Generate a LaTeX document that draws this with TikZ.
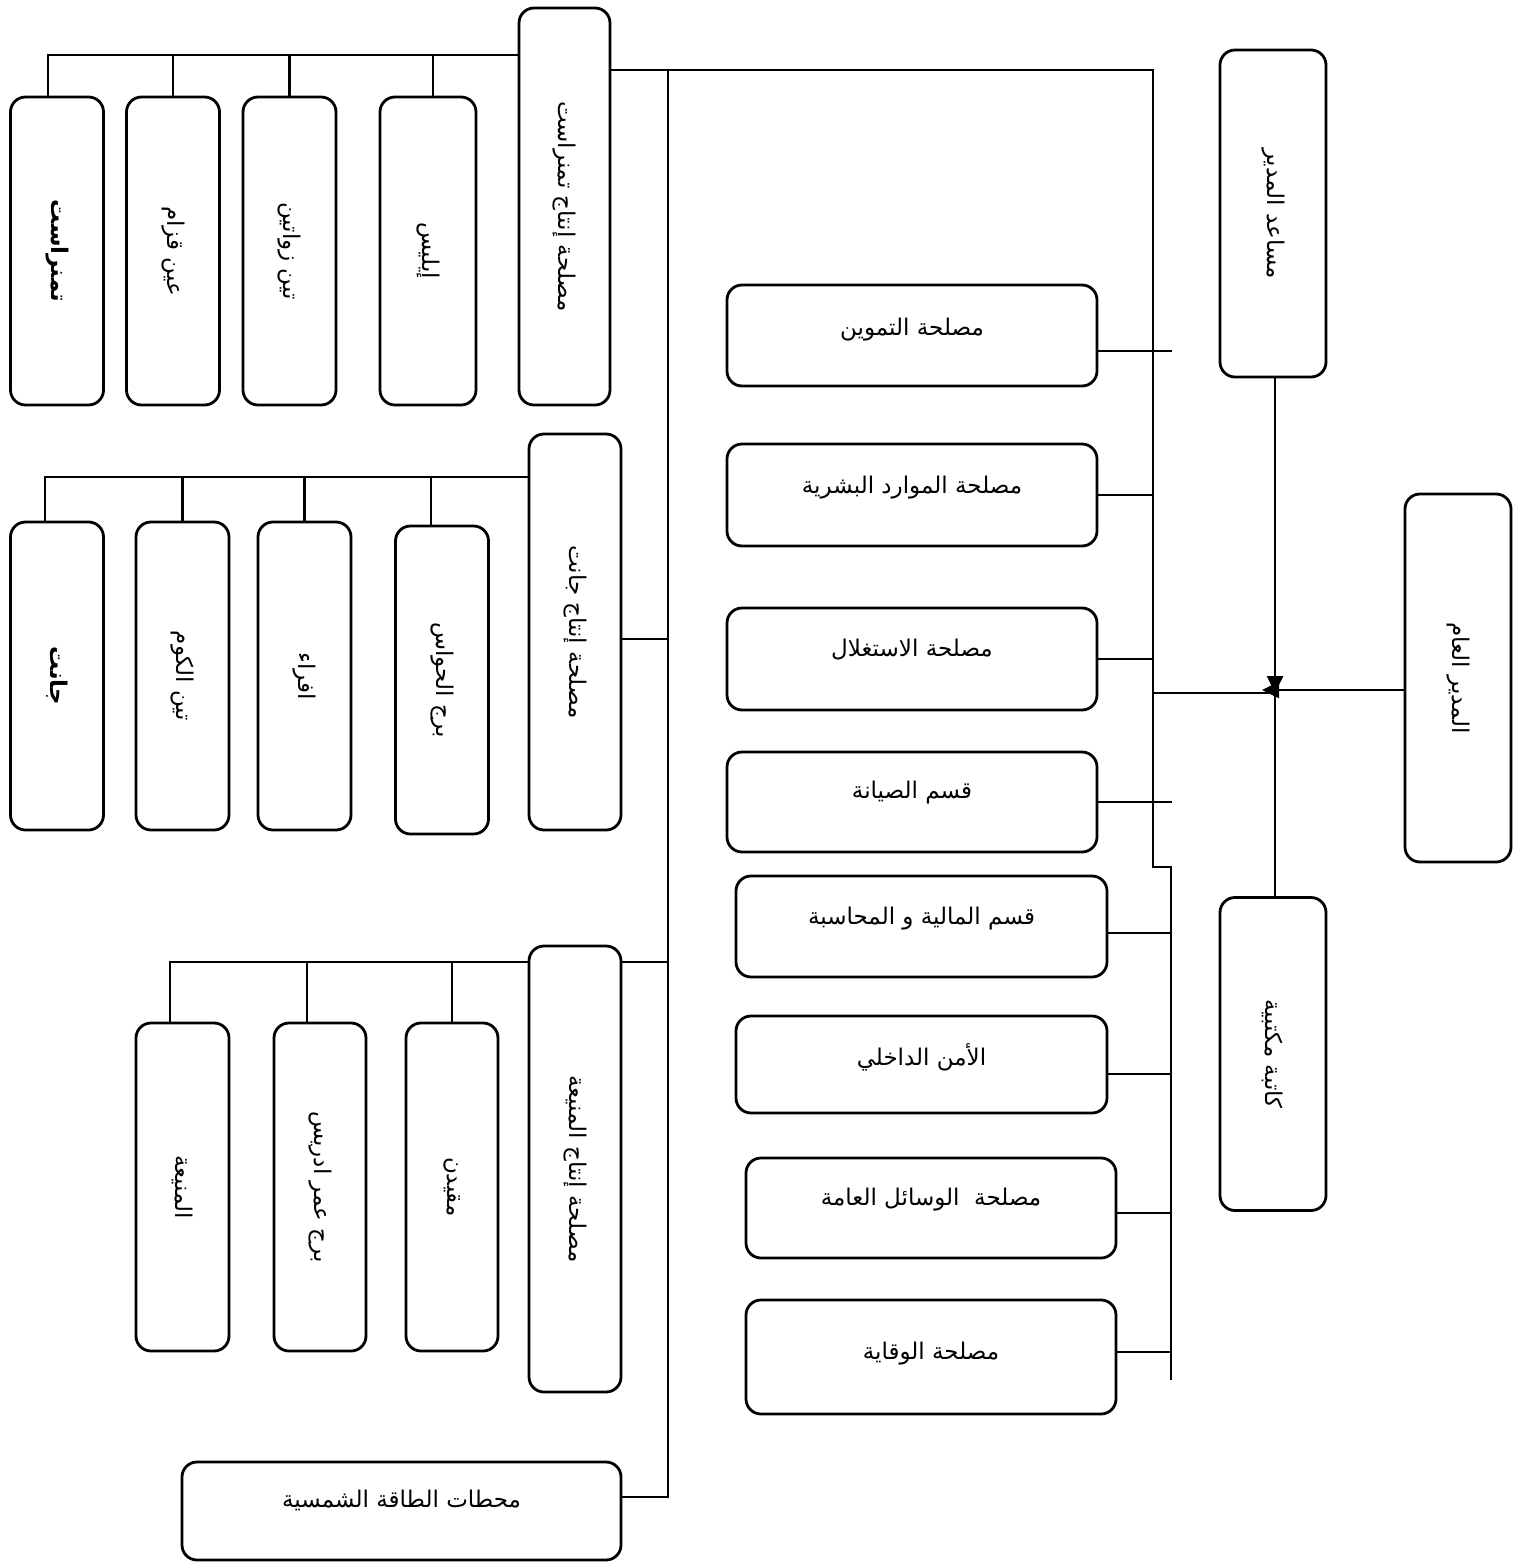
\documentclass[tikz,border=0pt]{standalone}
\usepackage{fontspec}
\usepackage{graphicx}
\usetikzlibrary{arrows.meta}
\TeXXeTstate=1
\newfontfamily\arfont[Script=Arabic]{DejaVu Sans}
\newcommand{\artxt}[1]{{\arfont\beginR #1\endR}}
\newcommand{\vartxt}[1]{\rotatebox{-90}{\arfont\beginR #1\endR}}
\tikzset{
  box/.style={draw, line width=2.8pt, rounded corners=15pt, inner sep=0pt, align=center,
    font=\fontsize{23}{27}\selectfont},
  lbl/.style={inner sep=0pt, font=\fontsize{23}{27}\selectfont},
  ln/.style={line width=2.5pt},
  arr/.style={ln, -{Triangle[width=16pt,length=17pt]}}
}
\begin{document}
\begin{tikzpicture}[x=1pt,y=-1pt]
\useasboundingbox (0,0) rectangle (1521,1562);

% ---------- group Tamanrasset ----------
\node[box, minimum width=91pt, minimum height=397pt] (hA) at (564.5,206.5) {\vartxt{مصلحة إنتاج تمنراست}};
\node[box, minimum width=96pt, minimum height=308pt] (ilz) at (428,251) {\vartxt{إيليس}};
\node[box, minimum width=93pt, minimum height=308pt] (tinz) at (289.5,251) {\vartxt{تين زواتين}};
\node[box, minimum width=93pt, minimum height=308pt] (ayn) at (173,251) {\vartxt{عين قزام}};
\node[box, minimum width=93pt, minimum height=308pt] (tam) at (57,251) {\vartxt{\bfseries تمنراست}};

% ---------- group Djanet ----------
\node[box, minimum width=92pt, minimum height=396pt] (hB) at (575,632) {\vartxt{مصلحة إنتاج جانت}};
\node[box, minimum width=93pt, minimum height=308pt] (bordjH) at (442,680) {\vartxt{برج الحواس}};
\node[box, minimum width=93pt, minimum height=308pt] (ifri) at (304.5,676) {\vartxt{افراء}};
\node[box, minimum width=93pt, minimum height=308pt] (tinK) at (182.5,676) {\vartxt{تين الكوم}};
\node[box, minimum width=93pt, minimum height=308pt] (jan) at (57,676) {\vartxt{\bfseries جانت}};

% ---------- group El Menia ----------
\node[box, minimum width=92pt, minimum height=446pt] (hC) at (575,1169) {\vartxt{مصلحة إنتاج المنيعة}};
\node[box, minimum width=92pt, minimum height=328pt] (meq) at (452,1187) {\vartxt{مقيدن}};
\node[box, minimum width=92pt, minimum height=328pt] (bordjO) at (320,1187) {\vartxt{برج عمر ادريس}};
\node[box, minimum width=93pt, minimum height=328pt] (men) at (182.5,1187) {\vartxt{المنيعة}};

% ---------- solar ----------
\node[box, minimum width=439pt, minimum height=98pt] (sol) at (401.5,1511) {};
\node[lbl] (solT) at ([yshift=11pt]sol.center) {\artxt{محطات الطاقة الشمسية}};

% ---------- services ----------
\node[box, minimum width=370pt, minimum height=101pt] (tamwin) at (912,335.5) {};
\node[lbl] (tamwinT) at ([yshift=6pt]tamwin.center) {\artxt{مصلحة التموين}};
\node[box, minimum width=370pt, minimum height=102pt] (hr) at (912,495) {};
\node[lbl] (hrT) at ([yshift=7pt]hr.center) {\artxt{مصلحة الموارد البشرية}};
\node[box, minimum width=370pt, minimum height=102pt] (expl) at (912,659) {};
\node[lbl] (explT) at ([yshift=9pt]expl.center) {\artxt{مصلحة الاستغلال}};
\node[box, minimum width=370pt, minimum height=100pt] (maint) at (912,802) {};
\node[lbl] (maintT) at ([yshift=9pt]maint.center) {\artxt{قسم الصيانة}};
\node[box, minimum width=371pt, minimum height=101pt] (fin) at (921.5,926.5) {};
\node[lbl] (finT) at ([yshift=8pt]fin.center) {\artxt{قسم المالية و المحاسبة}};
\node[box, minimum width=371pt, minimum height=97pt] (secu) at (921.5,1064.5) {};
\node[lbl] (secuT) at ([yshift=7pt]secu.center) {\artxt{الأمن الداخلي}};
\node[box, minimum width=370pt, minimum height=100pt] (gen) at (931,1208) {};
\node[lbl] (genT) at ([yshift=8pt]gen.center) {\artxt{مصلحة\ \ الوسائل العامة}};
\node[box, minimum width=370pt, minimum height=114pt] (prev) at (931,1357) {};
\node[lbl] (prevT) at ([yshift=3pt]prev.center) {\artxt{مصلحة الوقاية}};

% ---------- direction ----------
\node[box, minimum width=106pt, minimum height=327pt] (asst) at (1273,213.5) {\vartxt{مساعد المدير}};
\node[box, minimum width=106pt, minimum height=368pt] (gm) at (1458,678) {\vartxt{المدير العام}};
\node[box, minimum width=106pt, minimum height=313pt] (secr) at (1273,1054) {\vartxt{كاتبة مكتبية}};

% ---------- connectors: Tamanrasset bus ----------
\coordinate (aL) at (48,55);
\coordinate (aR) at (519,55);
\draw[ln] (hA.west |- aR) -- (aL) -- (aL |- tam.north);
\draw[ln] (ayn.north) -- (ayn.north |- aR);
\draw[ln] (tinz.north) -- (tinz.north |- aR);
\coordinate (aI) at (433,55);
\draw[ln] (aI |- ilz.north) -- (aI);

% ---------- trunks ----------
\coordinate (t1) at (1153,70);
\coordinate (t2) at (1153,867);
\coordinate (t3) at (1171,867);
\coordinate (t4) at (1171,1380);
\draw[ln] (hA.east |- t1) -- (t1) -- (t2) -- (t3) -- (t4);
\coordinate (m1) at (668,70);
\coordinate (m2) at (668,1497);
\draw[ln] (m1) -- (m2) -- (sol.east |- m2);
\coordinate (bJ) at (668,639);
\draw[ln] (hB.east |- bJ) -- (bJ);

% ---------- Djanet bus ----------
\coordinate (bL) at (45,477);
\draw[ln] (hB.west |- bL) -- (bL) -- (bL |- jan.north);
\draw[ln] (tinK.north) -- (tinK.north |- bL);
\draw[ln] (ifri.north) -- (ifri.north |- bL);
\coordinate (bH) at (431,477);
\draw[ln] (bH |- bordjH.north) -- (bH);

% ---------- El Menia bus ----------
\coordinate (cL) at (170,962);
\coordinate (cR) at (668,962);
\draw[ln] (hC.west |- cL) -- (cL) -- (cL |- men.north);
\draw[ln] (hC.east |- cR) -- (cR);
\coordinate (cO) at (307,962);
\draw[ln] (cO |- bordjO.north) -- (cO);
\draw[ln] (meq.north) -- (meq.north |- cL);

% ---------- services connectors ----------
\coordinate (r1) at (1172,351);
\draw[ln] (tamwin.east |- r1) -- (r1);
\draw[ln] (hr.east) -- (hr.east -| t1);
\draw[ln] (expl.east) -- (expl.east -| t1);
\coordinate (r4) at (1172,802);
\draw[ln] (maint.east) -- (maint.east -| r4);
\coordinate (r5) at (1171,933);
\draw[ln] (fin.east |- r5) -- (r5);
\coordinate (r6) at (1171,1074);
\draw[ln] (secu.east |- r6) -- (r6);
\coordinate (r7) at (1171,1213);
\draw[ln] (gen.east |- r7) -- (r7);
\coordinate (r8) at (1171,1352);
\draw[ln] (prev.east |- r8) -- (r8);

% ---------- direction connectors ----------
\coordinate (jn) at (1275,693);
\coordinate (c0) at (1153,693);
\draw[ln] (c0) -- (jn) -- (jn |- secr.north);
\draw[arr] (jn |- asst.south) -- (jn);
\coordinate (gt) at (1262,690);
\draw[arr] (gm.west |- gt) -- (gt);
\end{tikzpicture}
\end{document}
